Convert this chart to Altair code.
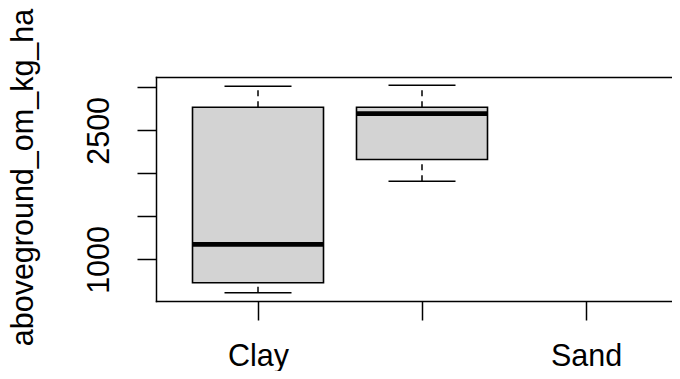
import altair as alt
import pandas as pd

# Data (R-style boxplot)
categories = ["Clay", "Loam", "Sand"]
box_groups = ["Clay", "Loam"]
lower_whisker = [613, 1909]
q1 = [729, 2161]
median = [1174, 2695]
q3 = [2768, 2768]
upper_whisker = [3012, 3024]
y_ticks = [1000, 1500, 2000, 2500, 3000]
y_labelled = [1000, 2500]
x_labelled = ["Clay", "Sand"]

df = pd.DataFrame({
    "group": box_groups,
    "lo": lower_whisker,
    "q1": q1,
    "med": median,
    "q3": q3,
    "hi": upper_whisker,
})

FONT = "Liberation Sans"
FS = 30.5
LW = 1.5

x_scale = alt.Scale(type="point", domain=categories, padding=0.622)
x_axis_bottom = alt.Axis(
    orient="bottom", title=None, grid=False, labelAngle=0,
    domain=True, domainColor="black", domainWidth=LW, domainCap="square",
    tickSize=19, tickWidth=LW, tickColor="black", tickOpacity=1,
    labelExpr="indexof(" + str(x_labelled).replace("'", '"') + ", datum.value) >= 0 ? datum.label : ''",
    labelFont=FONT, labelFontSize=FS, labelColor="black",
    labelPadding=45, labelBaseline="alphabetic", labelAlign="center",
)
x_axis_top = alt.Axis(
    orient="top", title=None, grid=False, labels=False, ticks=False,
    domain=True, domainColor="black", domainWidth=LW, domainCap="square",
)

y_scale = alt.Scale(domain=[517, 3120], nice=False, zero=False)
y_axis = alt.Axis(
    title="aboveground_om_kg_ha", values=y_ticks, format="d",
    labelExpr="indexof(" + str(y_labelled) + ", datum.value) >= 0 ? datum.label : ''",
    domain=True, domainColor="black", domainWidth=LW, domainCap="square",
    grid=False, tickSize=19, tickWidth=LW, tickColor="black", tickOpacity=1,
    labelAngle=270, labelAlign="center", labelBaseline="alphabetic",
    labelPadding=28.5, labelFont=FONT, labelFontSize=FS, labelColor="black",
    titleFont=FONT, titleFontSize=FS, titleFontWeight="normal", titleColor="black",
    titleAngle=270, titleAlign="center", titleBaseline="alphabetic",
    titleX=-124, titleY=100,
)


def X(axis=None):
    return alt.X("group:N", scale=x_scale, axis=axis)


base = alt.Chart(df)

whisk_hi = base.mark_rule(color="black", strokeWidth=LW, strokeDash=[6, 5], opacity=1).encode(
    x=X(x_axis_bottom), y=alt.Y("q3:Q", scale=y_scale, axis=y_axis), y2="hi:Q")
whisk_lo = base.mark_rule(color="black", strokeWidth=LW, strokeDash=[6, 5], opacity=1).encode(
    x=X(x_axis_top), y=alt.Y("lo:Q", scale=y_scale, axis=y_axis), y2="q1:Q")
cap_hi = base.mark_tick(color="black", size=67, thickness=LW, orient="horizontal", opacity=1).encode(
    x=X(), y=alt.Y("hi:Q", scale=y_scale, axis=y_axis))
cap_lo = base.mark_tick(color="black", size=67, thickness=LW, orient="horizontal", opacity=1).encode(
    x=X(), y=alt.Y("lo:Q", scale=y_scale, axis=y_axis))
box = base.mark_bar(size=131, fill="#D3D3D3", stroke="black", strokeWidth=1.6,
                    opacity=1, fillOpacity=1, strokeOpacity=1).encode(
    x=X(), y=alt.Y("q1:Q", scale=y_scale, axis=y_axis), y2="q3:Q")
med = base.mark_tick(color="black", size=131, thickness=4.7, orient="horizontal", opacity=1).encode(
    x=X(), y=alt.Y("med:Q", scale=y_scale, axis=y_axis))

chart = alt.layer(whisk_hi, whisk_lo, cap_hi, cap_lo, box, med).resolve_axis(
    x="independent"
).properties(
    width=532, height=224,
    background="white",
    autosize=alt.AutoSizeParams(type="none"),
    padding={"left": 148, "top": 69, "right": -16, "bottom": 70},
).configure_view(stroke=None)

chart.save("out.html", embed_options={"renderer": "svg", "actions": False})
